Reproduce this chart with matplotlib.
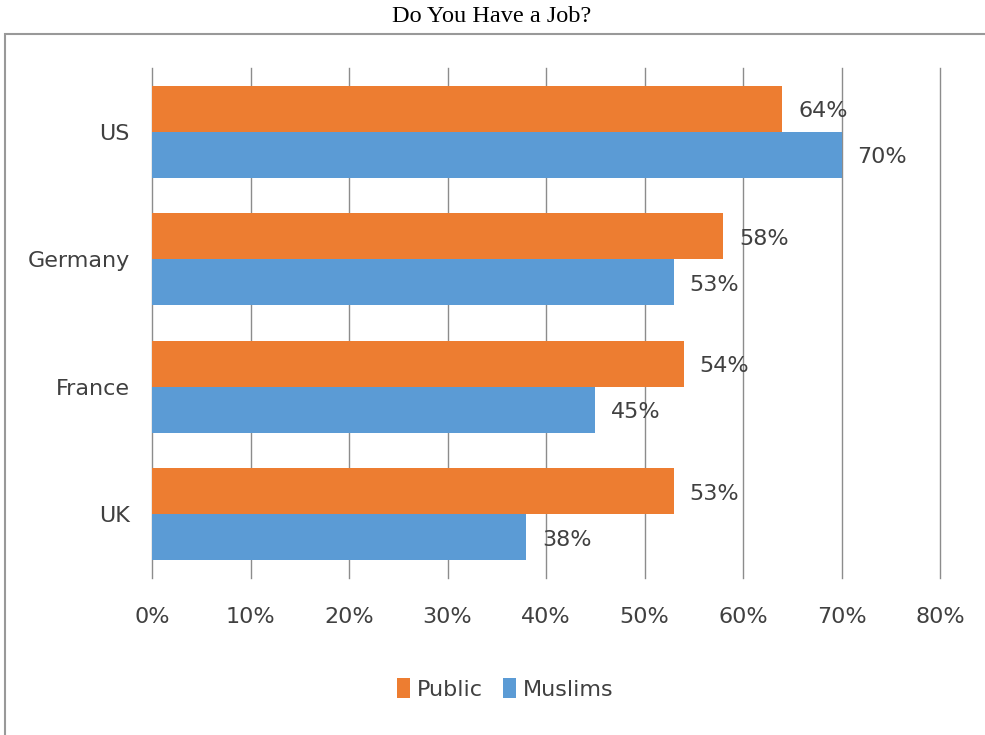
import matplotlib.pyplot as plt
from matplotlib.patches import Rectangle
import numpy as np

countries = ['US', 'Germany', 'France', 'UK']
public = [64, 58, 54, 53]
muslims = [70, 53, 45, 38]
xticks = [0, 10, 20, 30, 40, 50, 60, 70, 80]

ORANGE = '#ED7D31'
BLUE = '#5B9BD5'
GRID = '#8c8c8c'
FS = 16

plt.rcParams['font.family'] = ['Liberation Sans Narrow', 'DejaVu Sans Condensed', 'DejaVu Sans']

fig = plt.figure(figsize=(9.85, 7.35), dpi=100)
ax = fig.add_axes([152 / 985, 1 - 578 / 735, (940 - 152) / 985, (578 - 68) / 735])

y = np.arange(len(countries))
h = 0.36
ax.barh(y - h / 2, public, height=h, color=ORANGE, label='Public', zorder=3)
ax.barh(y + h / 2, muslims, height=h, color=BLUE, label='Muslims', zorder=3)

for yi, v in zip(y, public):
    ax.text(v + 1.6, yi - h / 2 + 0.02, f'{v}%', va='center', ha='left', fontsize=FS, color='#404040', zorder=4)
for yi, v in zip(y, muslims):
    ax.text(v + 1.6, yi + h / 2 + 0.02, f'{v}%', va='center', ha='left', fontsize=FS, color='#404040', zorder=4)

ax.set_xlim(0, 80)
ax.set_ylim(3.5, -0.5)
ax.set_xticks(xticks)
ax.set_xticklabels([f'{t}%' for t in xticks], fontsize=FS, color='#404040')
ax.set_yticks(y)
ax.set_yticklabels(countries, fontsize=FS, color='#404040')
ax.tick_params(axis='x', length=0, pad=21)
ax.tick_params(axis='y', length=0, pad=16)
ax.grid(axis='x', color=GRID, linewidth=1, zorder=0)
for line in ax.get_xgridlines():
    line.set_clip_on(False)
for s in ax.spines.values():
    s.set_visible(False)

fig.legend(loc='center', bbox_to_anchor=(505 / 985, 1 - 689 / 735), ncol=2, frameon=False,
           fontsize=FS, handlelength=0.6, handleheight=1.0, handletextpad=0.3, columnspacing=0.9,
           labelcolor='#404040')

fig.text(492 / 985, 1 - 16 / 735, 'Do You Have a Job?', ha='center', va='center',
         fontsize=17.5, family='Liberation Serif', color='black')

fig.patches.append(Rectangle((5 / 985, -0.1), 1.2, 1.1 - 34 / 735, transform=fig.transFigure,
                             fill=False, edgecolor='#999999', linewidth=1.5))

fig.savefig('out.png', dpi=100)
